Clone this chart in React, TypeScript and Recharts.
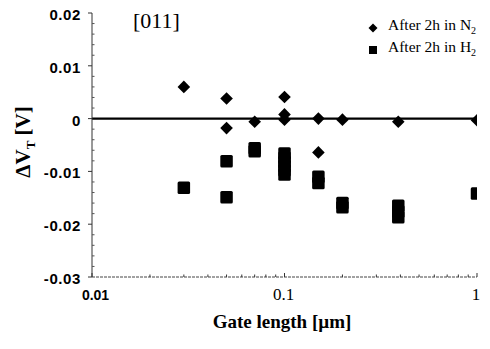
import React from 'react';
import { ScatterChart, Scatter, XAxis, YAxis, ReferenceLine, Legend } from 'recharts';

// Gate length [µm] and ΔV_T [V]
const n2X = [0.03, 0.05, 0.05, 0.07, 0.1, 0.1, 0.1, 0.15, 0.15, 0.2, 0.39, 1];
const n2Y = [0.006, 0.0038, -0.0018, -0.0006, 0.0041, 0.0008, -0.0002, 0, -0.0064, -0.0002, -0.0006, -0.0003];

const h2X = [0.03, 0.05, 0.05, 0.07, 0.07, 0.1, 0.1, 0.1, 0.1, 0.1, 0.1, 0.15, 0.15, 0.2, 0.2, 0.39, 0.39, 0.39, 1];
const h2Y = [-0.0131, -0.0081, -0.0149, -0.0056, -0.0062, -0.0066, -0.0074, -0.0082, -0.009, -0.0098, -0.0106, -0.011, -0.0122, -0.016, -0.0168, -0.0165, -0.0176, -0.0187, -0.0142];

const xMajorTicks = [0.01, 0.1, 1];
const xAllTicks = [0.01, 0.02, 0.03, 0.04, 0.05, 0.06, 0.07, 0.08, 0.09, 0.1, 0.2, 0.3, 0.4, 0.5, 0.6, 0.7, 0.8, 0.9, 1];
const xTickLabels = ['0.01', '0.1', '1'];

const yMajorTicks = [-0.03, -0.02, -0.01, 0, 0.01, 0.02];
const yTickLabels = ['-0.03', '-0.02', '-0.01', '0', '0.01', '0.02'];
const yAllTicks = [-0.03, -0.028, -0.026, -0.024, -0.022, -0.02, -0.018, -0.016, -0.014, -0.012, -0.01, -0.008, -0.006, -0.004, -0.002, 0, 0.002, 0.004, 0.006, 0.008, 0.01, 0.012, 0.014, 0.016, 0.018, 0.02];

const legendNames = ['After 2h in N', 'After 2h in H'];

const n2Data = n2X.map((x, i) => ({ x, y: n2Y[i] }));
const h2Data = h2X.map((x, i) => ({ x, y: h2Y[i] }));

const SERIF = '"Liberation Serif", "Times New Roman", serif';
const SANS = '"Liberation Sans", Arial, sans-serif';

const findIdx = (arr: number[], v: number) => arr.findIndex((a) => Math.abs(a - v) < 1e-9);

const Diamond = (props: any) => {
  const { cx, cy } = props;
  const r = 6.3;
  return <polygon points={`${cx},${cy - r} ${cx + r},${cy} ${cx},${cy + r} ${cx - r},${cy}`} fill="#000" />;
};

const Square = (props: any) => {
  const { cx, cy } = props;
  const s = 12.5;
  return <rect x={cx - s / 2} y={cy - s / 2} width={s} height={s} rx={1.5} fill="#000" />;
};

const XTick = (props: any) => {
  const { x, y, payload } = props;
  const idx = findIdx(xMajorTicks, payload.value);
  const major = idx >= 0;
  return (
    <g>
      <line x1={x} x2={x} y1={y} y2={y - (major ? 4 : 2.5)} stroke="#333" strokeWidth={1} />
      {major && (
        <text
          x={x + (idx === 0 ? 3.5 : idx === 1 ? -1 : -1)}
          y={y + 23}
          textAnchor="middle"
          fontFamily={idx === 0 ? SANS : SERIF}
          fontSize={idx === 0 ? 14 : 17}
          fontWeight={idx === 0 ? 'bold' : 'normal'}
          fill="#000"
        >
          {xTickLabels[idx]}
        </text>
      )}
    </g>
  );
};

const YTick = (props: any) => {
  const { x, y, payload } = props;
  const idx = findIdx(yMajorTicks, payload.value);
  const major = idx >= 0;
  return (
    <g>
      {major ? (
        <line x1={x - 4} x2={x} y1={y} y2={y} stroke="#333" strokeWidth={1} />
      ) : (
        <line x1={x} x2={x + 2.5} y1={y} y2={y} stroke="#555" strokeWidth={1} />
      )}
      {major && (
        <text x={x - 11} y={y + 7} textAnchor="end" fontFamily={SANS} fontSize={15} fontWeight="bold" letterSpacing={0.6} fill="#000">
          {yTickLabels[idx]}
        </text>
      )}
    </g>
  );
};

const YLabel = () => (
  <text
    transform="translate(30,142) rotate(-90)"
    textAnchor="middle"
    fontFamily={SERIF}
    fontWeight="bold"
    fontSize={21}
    fill="#000"
  >
    ΔV<tspan fontSize={13} dy={5}>T</tspan>
    <tspan dy={-5}> [V]</tspan>
  </text>
);

const XLabel = () => (
  <text x={282} y={328} textAnchor="middle" fontFamily={SERIF} fontWeight="bold" fontSize={19} fill="#000">
    Gate length [µm]
  </text>
);

const LegendContent = () => (
  <div style={{ fontFamily: SERIF, fontSize: 15.5, color: '#000', lineHeight: '22px', whiteSpace: 'nowrap' }}>
    <div style={{ display: 'flex', alignItems: 'center', height: 22 }}>
      <svg width={20} height={22}>
        <polygon points="5,6.5 9.5,11 5,15.5 0.5,11" fill="#000" />
      </svg>
      <span>
        {legendNames[0]}
        <sub style={{ fontSize: 10 }}>2</sub>
      </span>
    </div>
    <div style={{ display: 'flex', alignItems: 'center', height: 22 }}>
      <svg width={20} height={22}>
        <rect x={1} y={7} width={8} height={8} fill="#000" />
      </svg>
      <span>
        {legendNames[1]}
        <sub style={{ fontSize: 10 }}>2</sub>
      </span>
    </div>
  </div>
);

export default function App() {
  return (
    <div style={{ position: 'absolute', left: 0, top: 0, width: 490, height: 349, background: '#fff', overflow: 'hidden' }}>
      <ScatterChart width={490} height={349} margin={{ top: 13, right: 13, bottom: 0, left: 0 }}>
        <XAxis
          type="number"
          dataKey="x"
          scale="log"
          domain={[0.01, 1]}
          allowDataOverflow
          ticks={xAllTicks}
          interval={0}
          tickSize={0}
          tickMargin={0}
          tick={<XTick />}
          tickLine={false}
          height={72}
          axisLine={{ stroke: '#444', strokeWidth: 1, strokeDasharray: '3 1' }}
          label={<XLabel />}
        />
        <YAxis
          type="number"
          dataKey="y"
          domain={[-0.03, 0.02]}
          allowDataOverflow
          ticks={yAllTicks}
          interval={0}
          tickSize={0}
          tickMargin={0}
          tick={<YTick />}
          tickLine={false}
          width={92}
          axisLine={{ stroke: '#333', strokeWidth: 1 }}
          label={<YLabel />}
        />
        <ReferenceLine y={0} stroke="#000" strokeWidth={2.2} />
        <Scatter data={n2Data} shape={<Diamond />} isAnimationActive={false} />
        <Scatter data={h2Data} shape={<Square />} isAnimationActive={false} />
        <Legend
          layout="vertical"
          align="center"
          verticalAlign="middle"
          content={<LegendContent />}
          wrapperStyle={{ position: 'absolute', left: 368, top: 17, width: 140 }}
        />
      </ScatterChart>
      <div
        style={{
          position: 'absolute',
          left: 133,
          top: 8,
          fontFamily: SERIF,
          fontSize: 22,
          color: '#000',
        }}
      >
        [011]
      </div>
    </div>
  );
}
